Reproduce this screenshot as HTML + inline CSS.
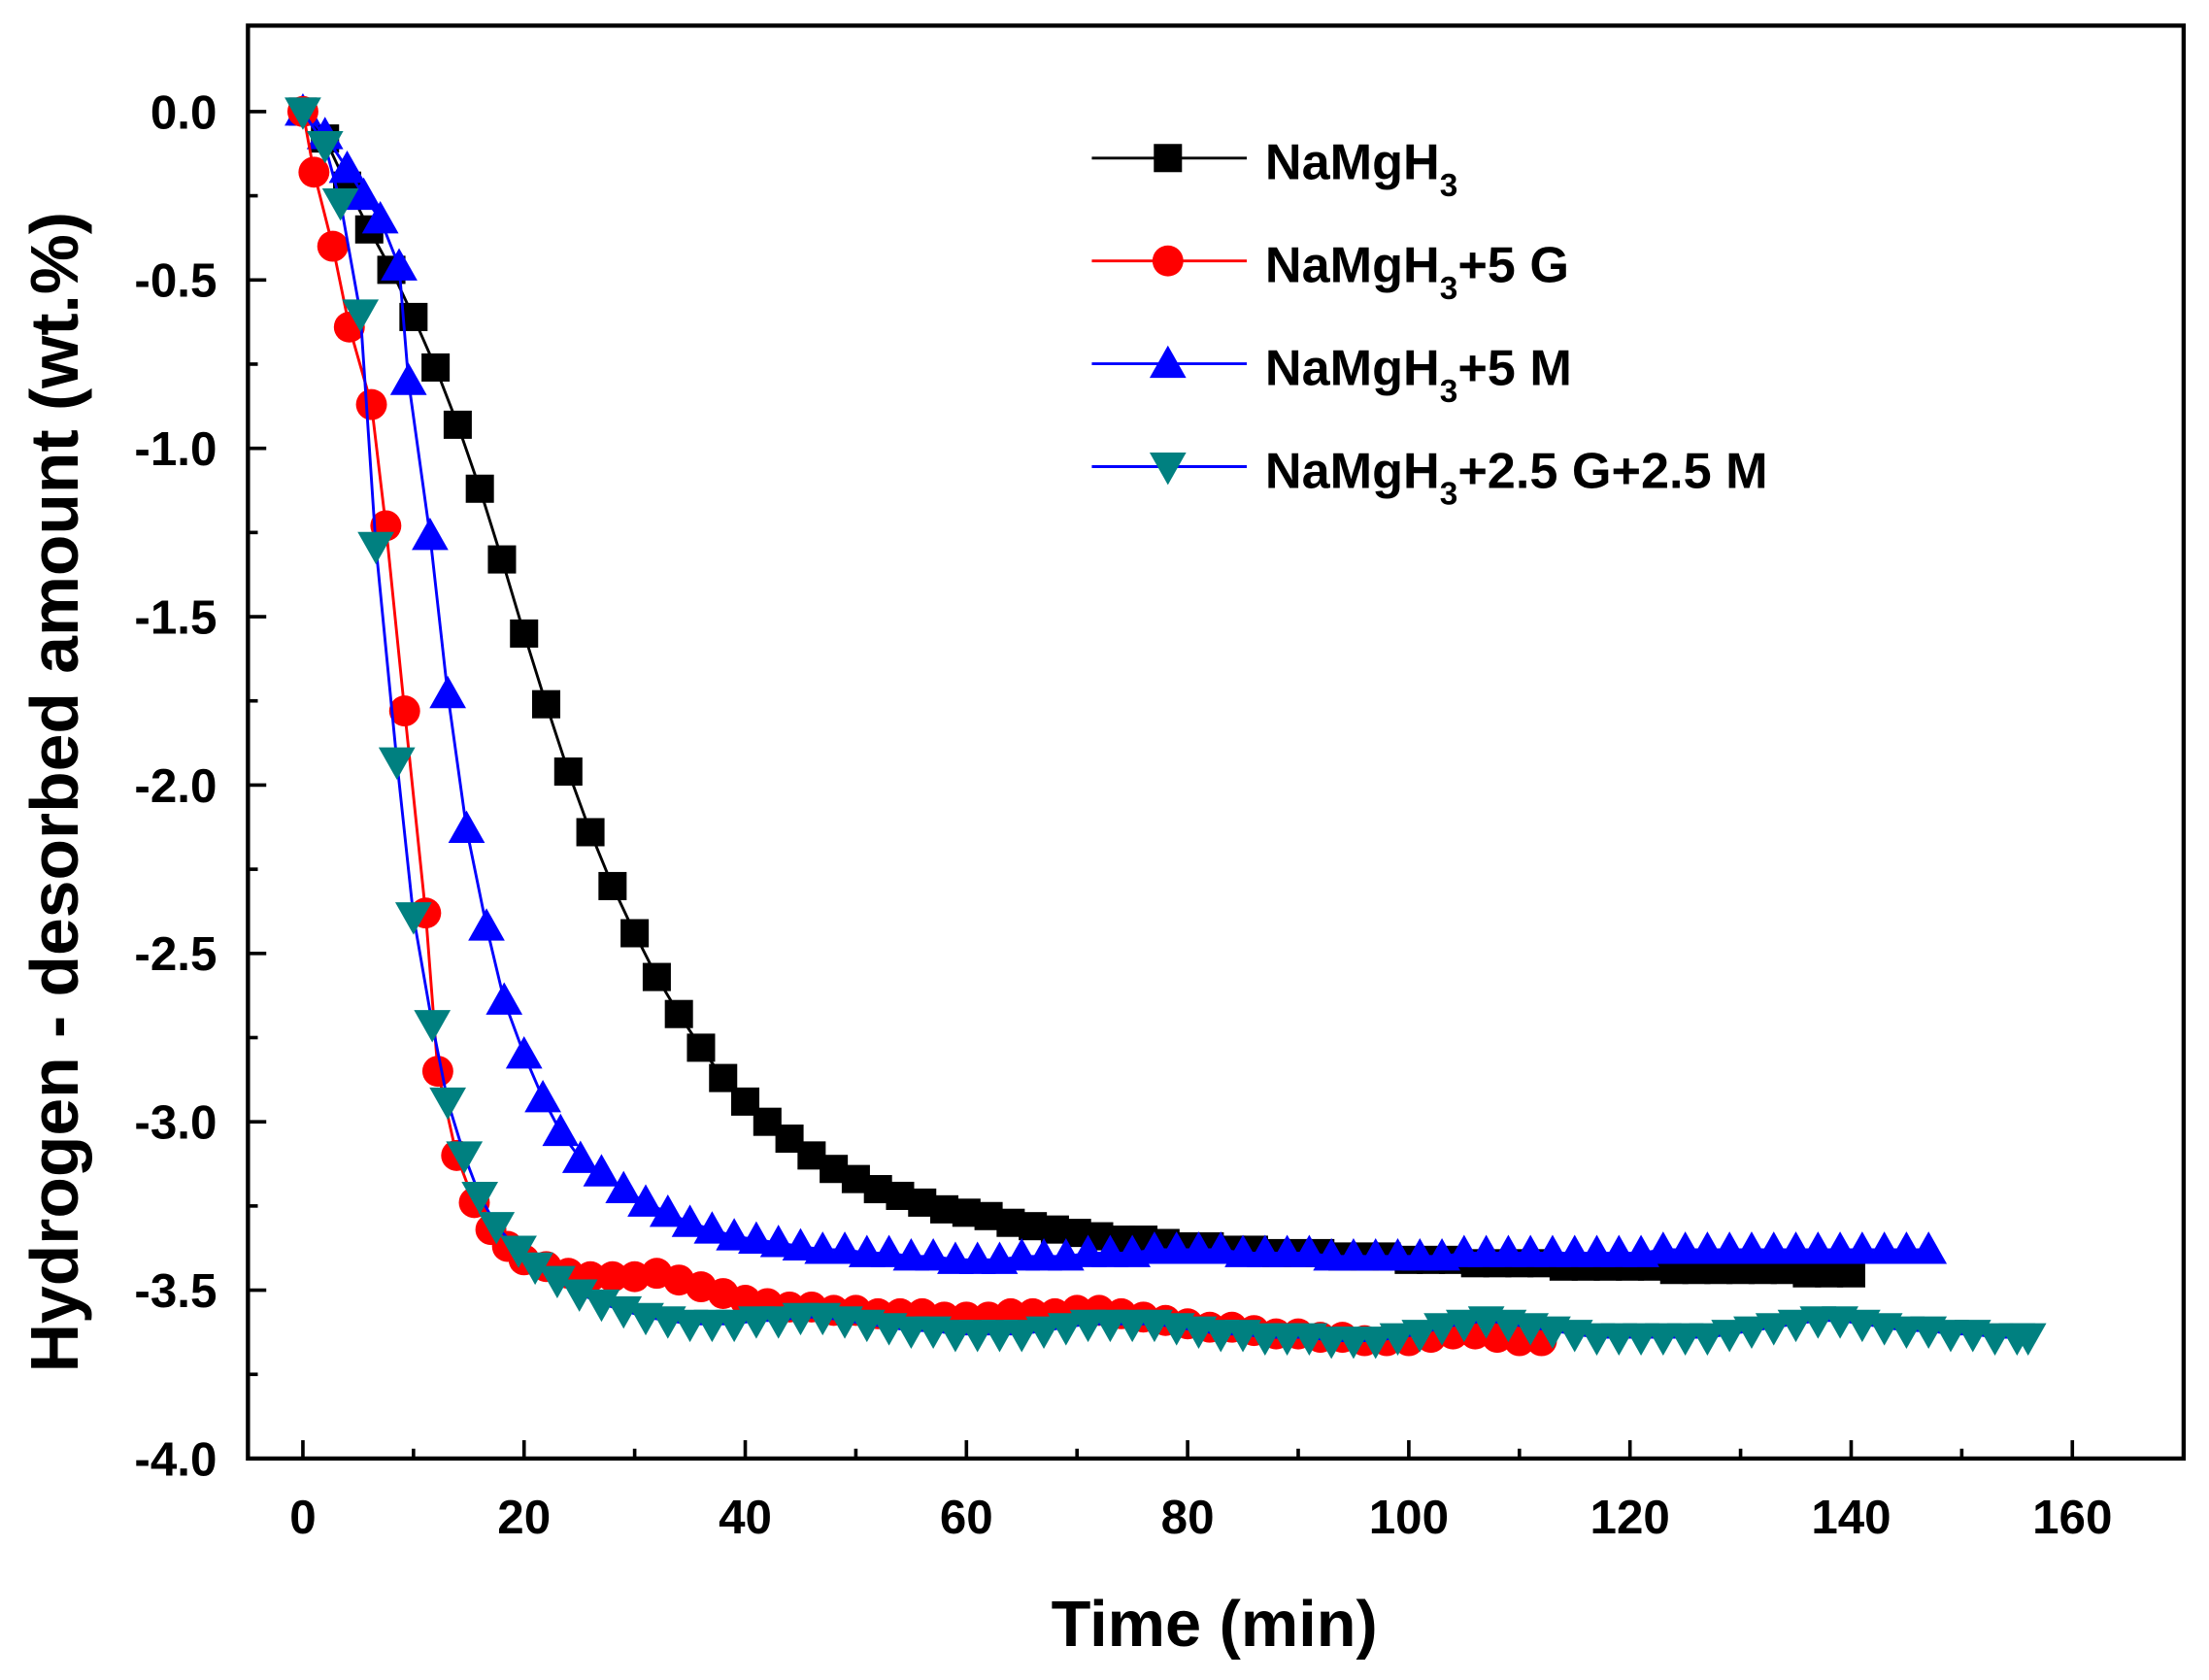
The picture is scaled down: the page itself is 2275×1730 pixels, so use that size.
<!DOCTYPE html>
<html><head><meta charset="utf-8"><style>
html,body{margin:0;padding:0;background:#fff;}
svg{display:block;font-family:"Liberation Sans",Arial,sans-serif;font-weight:bold;}
</style></head><body>
<svg id="chart" width="2275" height="1730" viewBox="0 0 1568 1192" xmlns="http://www.w3.org/2000/svg">
<rect x="0" y="0" width="1568" height="1192" fill="#fff"/>
<g id="plot"></g>
</svg>
<script>
const xTicks=[0,20,40,60,80,100,120,140,160];
const yTicks=[0.0,-0.5,-1.0,-1.5,-2.0,-2.5,-3.0,-3.5,-4.0];
const seriesNames=["NaMgH3","NaMgH3+5 G","NaMgH3+5 M","NaMgH3+2.5 G+2.5 M"];
const tBlack=[0,2,4,6,8,10,12,14,16,18,20,22,24,26,28,30,32,34,36,38,40,42,44,46,48,50,52,54,56,58,60,62,64,66,68,70,72,74,76,78,80,82,84,86,88,90,92,94,96,98,100,102,104,106,108,110,112,114,116,118,120,122,124,126,128,130,132,134,136,138,140];
const vBlack=[0,-0.08,-0.22,-0.35,-0.47,-0.61,-0.76,-0.93,-1.12,-1.33,-1.55,-1.76,-1.96,-2.14,-2.30,-2.44,-2.57,-2.68,-2.78,-2.87,-2.94,-3.00,-3.05,-3.10,-3.14,-3.17,-3.20,-3.22,-3.24,-3.26,-3.27,-3.28,-3.30,-3.31,-3.32,-3.33,-3.34,-3.35,-3.35,-3.36,-3.37,-3.37,-3.38,-3.38,-3.39,-3.39,-3.39,-3.40,-3.40,-3.40,-3.41,-3.41,-3.41,-3.42,-3.42,-3.42,-3.42,-3.43,-3.43,-3.43,-3.43,-3.43,-3.44,-3.44,-3.44,-3.44,-3.44,-3.44,-3.45,-3.45,-3.45];
const tRed=[0,1,2.7,4.2,6.2,7.5,9.2,11.1,12.2,13.9,15.5,17,18.5,20,22,24,26,28,30,32,34,36,38,40,42,44,46,48,50,52,54,56,58,60,62,64,66,68,70,72,74,76,78,80,82,84,86,88,90,92,94,96,98,100,102,104,106,108,110,112];
const vRed=[0,-0.18,-0.40,-0.64,-0.87,-1.23,-1.78,-2.38,-2.85,-3.10,-3.24,-3.32,-3.37,-3.41,-3.43,-3.45,-3.46,-3.46,-3.46,-3.45,-3.47,-3.49,-3.51,-3.53,-3.54,-3.55,-3.55,-3.56,-3.56,-3.57,-3.57,-3.57,-3.58,-3.58,-3.58,-3.57,-3.57,-3.57,-3.56,-3.56,-3.57,-3.58,-3.59,-3.60,-3.61,-3.61,-3.62,-3.63,-3.63,-3.64,-3.64,-3.65,-3.65,-3.65,-3.64,-3.63,-3.63,-3.64,-3.65,-3.65];
const tBlue=[0,2,4,5.5,7,8.7,9.55,11.5,13.1,14.8,16.6,18.2,20,21.7,23.3,25.1,27,29,31,33,35,37,39,41,43,45,47,49,51,53,55,57,59,61,63,65,67,69,71,73,75,77,79,81,83,85,87,89,91,93,95,97,99,101,103,105,107,109,111,113,115,117,119,121,123,125,127,129,131,133,135,137,139,141,143,145,147];
const vBlue=[0,-0.07,-0.17,-0.25,-0.32,-0.46,-0.80,-1.26,-1.73,-2.13,-2.42,-2.64,-2.80,-2.93,-3.03,-3.11,-3.15,-3.20,-3.24,-3.27,-3.30,-3.32,-3.34,-3.35,-3.36,-3.37,-3.38,-3.38,-3.39,-3.39,-3.40,-3.40,-3.41,-3.41,-3.41,-3.40,-3.40,-3.40,-3.39,-3.39,-3.39,-3.38,-3.38,-3.38,-3.38,-3.39,-3.39,-3.39,-3.39,-3.40,-3.40,-3.40,-3.40,-3.40,-3.40,-3.39,-3.39,-3.39,-3.39,-3.39,-3.39,-3.39,-3.39,-3.39,-3.38,-3.38,-3.38,-3.38,-3.38,-3.38,-3.38,-3.38,-3.38,-3.38,-3.38,-3.38,-3.38];
const tTeal=[0,2,3.4,5.2,6.6,8.5,10,11.7,13.1,14.6,16,17.5,19.5,21,23,25,27,29,31,33,35,37,39,41,43,45,47,49,51,53,55,57,59,61,63,65,67,69,71,73,75,77,79,81,83,85,87,89,91,93,95,97,99,101,103,105,107,109,111,113,115,117,119,121,123,125,127,129,131,133,135,137,139,141,143,145,147,149,151,153,155,156];
const vTeal=[0,-0.10,-0.27,-0.60,-1.29,-1.93,-2.39,-2.71,-2.94,-3.10,-3.22,-3.31,-3.38,-3.43,-3.47,-3.51,-3.54,-3.56,-3.58,-3.59,-3.60,-3.60,-3.60,-3.59,-3.59,-3.58,-3.58,-3.59,-3.60,-3.61,-3.62,-3.62,-3.63,-3.63,-3.63,-3.63,-3.62,-3.61,-3.60,-3.60,-3.60,-3.60,-3.61,-3.62,-3.63,-3.63,-3.64,-3.64,-3.64,-3.65,-3.65,-3.65,-3.64,-3.63,-3.61,-3.60,-3.59,-3.60,-3.61,-3.62,-3.63,-3.64,-3.64,-3.64,-3.64,-3.64,-3.64,-3.63,-3.62,-3.61,-3.60,-3.59,-3.59,-3.60,-3.61,-3.62,-3.62,-3.63,-3.63,-3.64,-3.64,-3.64];

const NS="http://www.w3.org/2000/svg";
const g=document.getElementById('plot');
const L=176,R=1550,T=18,B=1035;
function xs(t){return 215+(t-0)*(1471-215)/160;}
function ys(v){return 79+(0-v)*(1035-79)/4;}
function el(tag,attrs,parent){const e=document.createElementNS(NS,tag);for(const k in attrs)e.setAttribute(k,attrs[k]);(parent||g).appendChild(e);return e;}

const frame=el('rect',{x:L,y:T,width:R-L,height:B-T,fill:'none',stroke:'#000','stroke-width':3});



for(let t=0;t<=160;t+=10){
  const len=(t%20===0)?13:7;
  const tk=el('line',{x1:xs(t),x2:xs(t),y1:B,y2:B-len,stroke:'#000','stroke-width':2.5});
  
  
}
xTicks.forEach(t=>{
  const tx=el('text',{x:xs(t),y:B+53,'text-anchor':'middle','font-size':34});
  tx.textContent=String(t);
  
  
});
for(let i=0;i<=16;i++){
  const v=-i*0.25;
  const len=(i%2===0)?13:7;
  const tk=el('line',{x1:L,x2:L+len,y1:ys(v),y2:ys(v),stroke:'#000','stroke-width':2.5});
  
  
}
yTicks.forEach(v=>{
  const tx=el('text',{x:L-22,y:ys(v)+12,'text-anchor':'end','font-size':34});
  tx.textContent=v.toFixed(1);
  
  
});
const xt=el('text',{x:862,y:1168,'text-anchor':'middle','font-size':46});
xt.textContent='Time (min)';


const yt=el('text',{x:0,y:0,'text-anchor':'middle','font-size':48,transform:'translate(55,562) rotate(-90)'});
yt.textContent='Hydrogen - desorbed amount (wt.%)';



function marker(type,x,y,color,parent){
  let m;
  if(type==='square') m=el('rect',{x:x-10,y:y-10,width:20,height:20,fill:color},parent);
  else if(type==='circle') m=el('circle',{cx:x,cy:y,r:11,fill:color},parent);
  else if(type==='up') m=el('polygon',{points:`${x},${y-13} ${x+13},${y+10} ${x-13},${y+10}`,fill:color},parent);
  else m=el('polygon',{points:`${x},${y+13} ${x+13},${y-10} ${x-13},${y-10}`,fill:color},parent);
  return m;
}
const series=[
  {t:tBlack,v:vBlack,line:'#000',fill:'#000',m:'square',n:'namgh3'},
  {t:tBlue,v:vBlue,line:'#0000ff',fill:'#0000ff',m:'up',n:'namgh3-5m'},
  {t:tRed,v:vRed,line:'#ff0000',fill:'#ff0000',m:'circle',n:'namgh3-5g'},
  {t:tTeal,v:vTeal,line:'#0000ff',fill:'#008080',m:'down',n:'namgh3-2-5g-2-5m'}
];
series.forEach(s=>{
  const grp=el('g',{});
  
  
  const pts=s.t.map((t,i)=>xs(t)+','+ys(s.v[i])).join(' ');
  el('polyline',{points:pts,fill:'none',stroke:s.line,'stroke-width':2},grp);
  s.t.forEach((t,i)=>{
    const m=marker(s.m,xs(t),ys(s.v[i]),s.fill,grp);
    
    
  });
});

const leg=[
  {m:'square',line:'#000',fill:'#000',main:'NaMgH',rest:''},
  {m:'circle',line:'#ff0000',fill:'#ff0000',main:'NaMgH',rest:'+5 G'},
  {m:'up',line:'#0000ff',fill:'#0000ff',main:'NaMgH',rest:'+5 M'},
  {m:'down',line:'#0000ff',fill:'#008080',main:'NaMgH',rest:'+2.5 G+2.5 M'}
];
const legendG=el('g',{});


leg.forEach((l,i)=>{
  const y=112+i*73;
  const eg=el('g',{},legendG);
  
  
  el('line',{x1:775,x2:885,y1:y,y2:y,stroke:l.line,'stroke-width':2},eg);
  marker(l.m,829,y,l.fill,eg);
  const tx=el('text',{x:898,y:y+15,'font-size':36},eg);
  const a=document.createElementNS(NS,'tspan');a.textContent=l.main;tx.appendChild(a);
  const b=document.createElementNS(NS,'tspan');b.setAttribute('font-size','23');b.setAttribute('dy','12');b.textContent='3';tx.appendChild(b);
  const c=document.createElementNS(NS,'tspan');c.setAttribute('dy','-12');c.textContent=l.rest;tx.appendChild(c);
});
</script>
</body></html>
